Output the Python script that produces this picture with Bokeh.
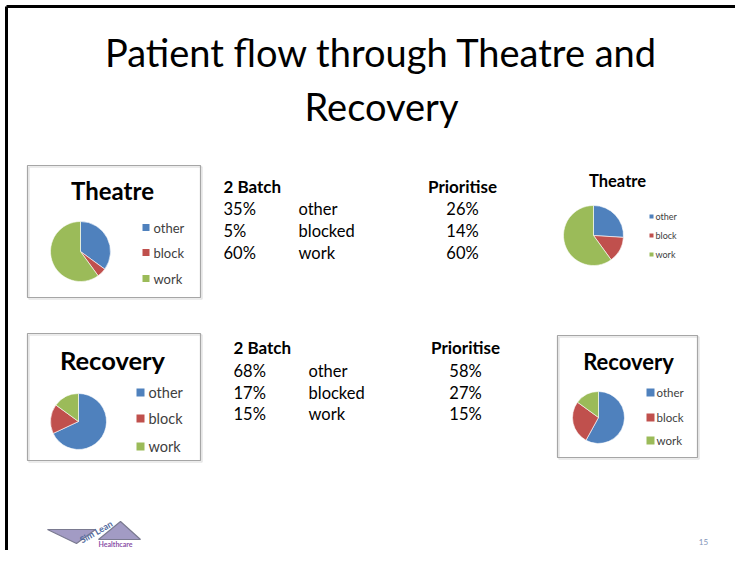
import numpy as np
from bokeh.plotting import figure
from bokeh.models import Range1d, ColumnDataSource
from bokeh.core.properties import value
from bokeh.embed import file_html
from bokeh.resources import INLINE

# ---------------- data ----------------
title_lines = ["Patient flow through Theatre and", "Recovery"]
legend_labels = ["other", "block", "work"]
row_labels = ["other", "blocked", "work"]
theatre_batch = [35, 5, 60]
theatre_prior = [26, 14, 60]
recovery_batch = [68, 17, 15]
recovery_prior = [58, 27, 15]
col_headers = ["2 Batch", "Prioritise"]
slice_colors = ["#4F81BD", "#C0504D", "#9BBB59"]
page_number = "15"

FONT = "Lato"

p = figure(width=735, height=550, x_range=Range1d(0, 735), y_range=Range1d(0, 550),
           output_backend="svg", toolbar_location=None, min_border=0)
p.axis.visible = False
p.grid.visible = False
p.outline_line_color = None
p.background_fill_color = "white"
p.border_fill_color = "white"


def Y(py):
    return 550 - py


def txt(xs, ys, texts, size, align="left", bold=False, color="black", baseline="middle", angle=0.0):
    p.text(x=xs, y=[Y(v) for v in ys], text=texts, text_font=value(FONT),
           text_font_size=size, text_align=align, text_baseline=baseline,
           text_color=color, text_font_style="bold" if bold else "normal", angle=angle)


def pie(cx, cy, r, vals):
    v = np.array(vals, dtype=float)
    f = v / v.sum()
    ends = np.cumsum(f)
    starts = ends - f
    src = ColumnDataSource(dict(x=[cx] * len(v), y=[Y(cy)] * len(v),
                                s=np.pi / 2 - 2 * np.pi * starts,
                                e=np.pi / 2 - 2 * np.pi * ends,
                                c=slice_colors))
    p.wedge(x="x", y="y", radius=r, radius_units="screen", start_angle="s", end_angle="e",
            direction="clock", fill_color="c", line_color="white", line_width=0.6, source=src)


def legend(sx, tx, ys, sq, size, color="#404040"):
    p.rect(x=[sx] * 3, y=[Y(v) for v in ys], width=sq, height=sq, width_units="screen",
           height_units="screen", fill_color=slice_colors, line_color=None)
    txt([tx] * 3, ys, legend_labels, size, color=color)


def box(x0, y0, x1, y1):
    p.quad(left=x0 + 1.5, right=x1 + 1.5, top=Y(y0 + 1.5), bottom=Y(y1 + 1.5),
           fill_color=None, line_color="#E6E6E6", line_width=1.5)
    p.quad(left=x0, right=x1, top=Y(y0), bottom=Y(y1),
           fill_color=None, line_color="#A6A6A6", line_width=1.2)


# slide border (top and left)
p.line(x=[6, 735], y=[Y(6), Y(6)], line_color="black", line_width=3)
p.line(x=[6, 6], y=[Y(6), Y(550)], line_color="black", line_width=3)

# title
txt([381, 381], [51, 105], title_lines, "38px", align="center")

# ---- top-left Theatre chart ----
box(27, 165, 200, 297)
txt([112], [190], ["Theatre"], "24px", align="center", bold=True)
pie(80, 251, 30, theatre_batch)
legend(145.5, 153, [227, 252, 278], 7, "13px")

# ---- top-right Theatre chart ----
txt([617], [180], ["Theatre"], "16.5px", align="center", bold=True)
pie(593, 235, 30, theatre_prior)
legend(651, 655, [216, 235, 254], 4, "9px")

# ---- bottom-left Recovery chart ----
box(27, 333, 200, 460)
txt([112], [359], ["Recovery"], "25.5px", align="center", bold=True)
pie(78, 421, 28, recovery_batch)
legend(140, 148, [392, 418, 446], 8, "14.5px")

# ---- bottom-right Recovery chart ----
box(557, 335, 697, 457)
txt([628], [361], ["Recovery"], "22px", align="center", bold=True)
pie(598, 417, 26, recovery_prior)
legend(650, 656, [392, 417, 440], 8, "11.5px")


# ---- tables ----
def table(x_pct, x_lab, x_pr, y_head, ys, batch, prior):
    txt([x_pct], [y_head], [col_headers[0]], "17px", bold=True)
    txt([x_pr], [y_head], [col_headers[1]], "17px", bold=True, align="center")
    txt([x_pct] * 3, ys, [f"{v}%" for v in batch], "16.5px")
    txt([x_lab] * 3, ys, row_labels, "16.5px")
    txt([x_pr] * 3, ys, [f"{v}%" for v in prior], "16.5px", align="center")


table(223, 298, 462, 186, [208, 230, 252], theatre_batch, theatre_prior)
table(233, 308, 465, 347, [370, 392, 413], recovery_batch, recovery_prior)

# ---- logo ----
p.patch(x=[47, 95, 76], y=[Y(529), Y(529), Y(543)], fill_color="#A29BC4",
        line_color="#7A7A90", line_width=1.2)
p.patch(x=[98, 120, 140], y=[Y(539), Y(521), Y(539)], fill_color="#A29BC4",
        line_color="#7A7A90", line_width=1.2)
txt([80], [540], ["Sim Lean"], "9px", bold=True, color="#4F6A9E", angle=0.52, baseline="alphabetic")
txt([98], [543], ["Healthcare"], "7px", bold=True, color="#8B4FA8")

# page number
txt([703], [541], [page_number], "8px", align="center", color="#7F94B8")

open("out.html", "w").write(file_html(p, INLINE))
